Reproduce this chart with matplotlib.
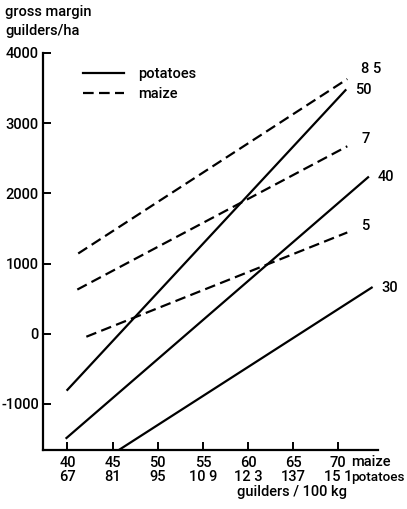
import numpy as np
import matplotlib.pyplot as plt

plt.rcParams['font.family'] = ['Roboto', 'DejaVu Sans']
plt.rcParams['font.size'] = 10.5
plt.rcParams['font.weight'] = 'medium'

# Prix (guilders/100 kg) : maïs en abscisse, pommes de terre en dessous
maize_prices = [40, 45, 50, 55, 60, 65, 70]
potato_prices = ["67", "81", "95", "10 9", "12 3", "137", "15 1"]

# Droites de marge brute : (x début, x fin), (y début, y fin)
potato_labels = ["50", "40", "30"]
potato_x = [[40.0, 70.8], [39.9, 73.3], [45.7, 73.7]]
potato_y = [[-800, 3470], [-1486, 2229], [-1657, 657]]

maize_labels = ["8 5", "7", "5"]
maize_x = [[41.2, 71.0], [41.1, 71.0], [42.1, 71.0]]
maize_y = [[1143, 3629], [629, 2671], [-43, 1443]]

y_ticks = [4000, 3000, 2000, 1000, 0, -1000]

fig = plt.figure(figsize=(4.07, 5.09), dpi=100)
ax = fig.add_axes([43/407, 59/509, 335/407, 397/509])

for i, lab in enumerate(potato_labels):
    ax.plot(potato_x[i], potato_y[i], "-", color="black", lw=1.6,
            label="potatoes" if i == 0 else None)
    ax.annotate(lab, (potato_x[i][1], potato_y[i][1]), xytext=(7, 0),
                textcoords="offset points", va="center", ha="left")

for i, lab in enumerate(maize_labels):
    ax.plot(maize_x[i], maize_y[i], "--", color="black", lw=1.6,
            dashes=(4.8, 2.4), label="maize" if i == 0 else None)
    dy = 7 if i == 0 else 5
    ax.annotate(lab, (maize_x[i][1], maize_y[i][1]), xytext=(10, dy),
                textcoords="offset points", va="center", ha="left")

ax.set_xlim(37.3, 74.4)
ax.set_ylim(-1657, 4000)

ax.set_xticks(maize_prices)
ax.set_xticklabels([f"{m}\n{p}" for m, p in zip(maize_prices, potato_prices)],
                   linespacing=1.0)
ax.set_yticks(y_ticks)
ax.set_yticklabels([str(v) for v in y_ticks])
ax.tick_params(direction="in", length=6, width=1.4, pad=3)
ax.tick_params(axis="x", pad=4)

for s in ["top", "right"]:
    ax.spines[s].set_visible(False)
for s in ["left", "bottom"]:
    ax.spines[s].set_linewidth(1.6)

# Étiquettes des deux échelles de prix, à droite du dernier repère
ax.annotate("maize", (maize_prices[-1], 0), xycoords=ax.get_xaxis_transform(),
            xytext=(9, -8.8), textcoords="offset points",
            ha="left", va="center")
ax.annotate("potatoes", (maize_prices[-1], 0), xycoords=ax.get_xaxis_transform(),
            xytext=(9, -19.8), textcoords="offset points",
            ha="left", va="center", fontsize=9.7)
fig.text(292/407, 1 - 492/509, "guilders / 100 kg", ha="center", va="center")

# Titre de l'axe vertical
fig.text(5/407, 1 - 12/509, "gross margin", ha="left", va="center")
fig.text(5/407, 1 - 31/509, "guilders/ha", ha="left", va="center")

ax.legend(loc="upper left", bbox_to_anchor=(0.12, 0.965), frameon=False,
          handlelength=2.8, handletextpad=1.0, borderpad=0,
          borderaxespad=0, labelspacing=0.45)

fig.savefig("out.png", dpi=100)
